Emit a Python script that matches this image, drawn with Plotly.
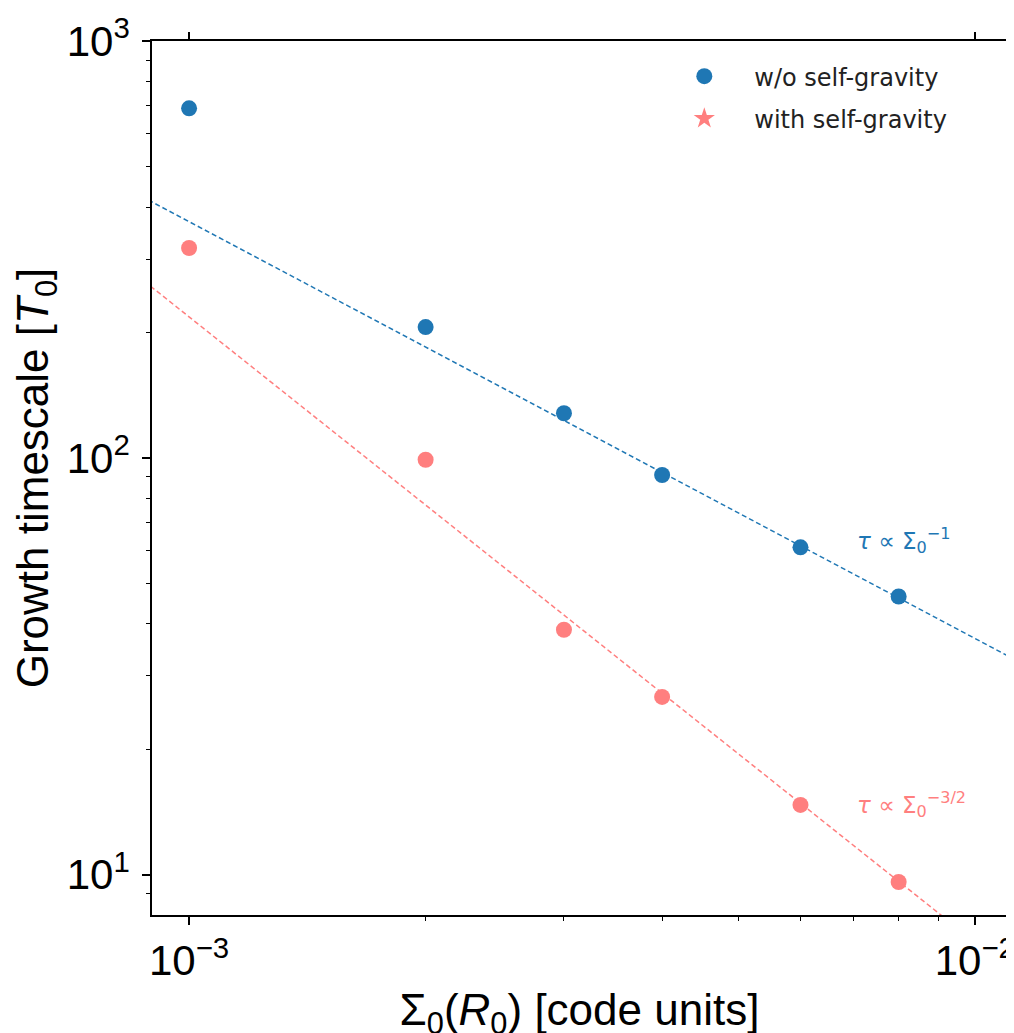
import numpy as np
import plotly.graph_objects as go

# ---- data ----
sigma0 = [0.001, 0.002, 0.003, 0.004, 0.006, 0.008]
tau_no_sg = [690, 206, 128, 91, 61, 46.5]
tau_sg = [319, 99, 38.7, 26.7, 14.7, 9.6]

# power-law guide lines: tau = A * (Sigma0 / 1e-3) ** slope
fit_ref_sigma = 1e-3
fit_no_sg_amp, fit_no_sg_slope = 369.0, -1.0
fit_sg_amp, fit_sg_slope = 218.0, -1.5
fit_sigma = [0.0008, 0.012]

x_tickvals = [1e-3, 1e-2]
x_ticktext = ["10<sup>\u22123</sup>", "10<sup>\u22122</sup>"]
x_minor = [0.002, 0.003, 0.004, 0.005, 0.006, 0.007, 0.008, 0.009]
y_tickvals = [10, 100, 1000]
y_ticktext = ["10<sup>1</sup>", "10<sup>2</sup>", "10<sup>3</sup>"]
y_minor = [9, 20, 30, 40, 50, 60, 70, 80, 90, 200, 300, 400, 500, 600, 700, 800, 900]

BLUE = "#1f77b4"
PINK = "#ff7f7f"

x_range = [np.log10(0.000897), np.log10(0.01099)]
y_range = [np.log10(8.0), 3.0005]

fs = np.array(fit_sigma)
fit_no_sg = fit_no_sg_amp * (fs / fit_ref_sigma) ** fit_no_sg_slope
fit_sg = fit_sg_amp * (fs / fit_ref_sigma) ** fit_sg_slope

fig = go.Figure()
fig.add_trace(go.Scatter(x=fit_sigma, y=fit_no_sg, mode="lines", showlegend=False,
                         line=dict(color=BLUE, width=1.5, dash="5px,3px"), hoverinfo="skip"))
fig.add_trace(go.Scatter(x=fit_sigma, y=fit_sg, mode="lines", showlegend=False,
                         line=dict(color=PINK, width=1.5, dash="5px,3px"), hoverinfo="skip"))
fig.add_trace(go.Scatter(x=sigma0, y=tau_no_sg, mode="markers", name="w/o self-gravity",
                         legendgroup="a",
                         marker=dict(color=BLUE, size=16, symbol="circle")))
fig.add_trace(go.Scatter(x=sigma0, y=tau_sg, mode="markers", showlegend=False,
                         marker=dict(color=PINK, size=16, symbol="circle")))
fig.add_trace(go.Scatter(x=[None], y=[None], mode="markers", name="with self-gravity",
                         legendgroup="b",
                         marker=dict(color=PINK, size=16, symbol="star")))
# invisible trace to host the mirrored (top/right) axes
fig.add_trace(go.Scatter(x=[None], y=[None], xaxis="x2", yaxis="y2", showlegend=False,
                         hoverinfo="skip"))

tickfont = dict(family="Liberation Sans, Arial", size=42, color="black")
axis_common = dict(
    type="log", showgrid=False, zeroline=False,
    showline=True, linecolor="black", linewidth=1.5,
    mirror=True, ticks="outside", ticklen=8, tickwidth=1.5, tickcolor="black",
    tickfont=tickfont, ticklabeloverflow="allow", automargin=False,
)
minor_common = dict(ticks="outside", ticklen=4, tickwidth=1, tickcolor="black", tickmode="array")

fig.update_layout(
    xaxis=dict(
        **axis_common,
        range=x_range,
        tickmode="array", tickvals=x_tickvals, ticktext=x_ticktext,
        minor=dict(**minor_common, tickvals=x_minor),
        title=dict(text="\u03a3<sub>0</sub>(<i>R</i><sub>0</sub>) [code units]",
                   font=dict(family="Liberation Sans, Arial", size=44, color="black"),
                   standoff=13),
    ),
    yaxis=dict(
        **axis_common,
        range=y_range,
        tickmode="array", tickvals=y_tickvals, ticktext=y_ticktext,
        ticklabelstandoff=4,
        minor=dict(**minor_common, tickvals=y_minor),
        title=dict(text="Growth timescale [<i>T</i><sub>0</sub>]",
                   font=dict(family="Liberation Sans, Arial", size=44, color="black"),
                   standoff=5),
    ),
    xaxis2=dict(type="log", overlaying="x", side="top", anchor="y", range=x_range,
                showgrid=False, zeroline=False, showline=False, showticklabels=False,
                ticks="outside", ticklen=8, tickwidth=1.5, tickcolor="black",
                tickmode="array", tickvals=x_tickvals, automargin=False),
    yaxis2=dict(type="log", overlaying="y", side="right", anchor="x", range=y_range,
                showgrid=False, zeroline=False, showline=False, showticklabels=False,
                ticks="outside", ticklen=8, tickwidth=1.5, tickcolor="black",
                tickmode="array", tickvals=y_tickvals, automargin=False),
)

fig.add_annotation(xref="paper", yref="paper", x=0.822, y=0.429, xanchor="left", yanchor="middle",
                   text="<i>\u03c4</i> \u221d \u03a3<sub>0</sub><sup>\u22121</sup>", showarrow=False,
                   font=dict(family="DejaVu Sans", size=23, color=BLUE))
fig.add_annotation(xref="paper", yref="paper", x=0.822, y=0.126, xanchor="left", yanchor="middle",
                   text="<i>\u03c4</i> \u221d \u03a3<sub>0</sub><sup>\u22123/2</sup>", showarrow=False,
                   font=dict(family="DejaVu Sans", size=23, color=PINK))

fig.update_layout(
    width=1014, height=1033,
    margin=dict(l=144, r=15, t=33, b=126, autoexpand=False),
    plot_bgcolor="white", paper_bgcolor="white",
    legend=dict(x=0.5875, y=0.985, xanchor="left", yanchor="top",
                bgcolor="rgba(0,0,0,0)", borderwidth=0,
                font=dict(family="DejaVu Sans", size=24, color="#222"),
                itemwidth=90, traceorder="grouped", tracegroupgap=8),
    showlegend=True,
)

fig.write_html("out.html")
